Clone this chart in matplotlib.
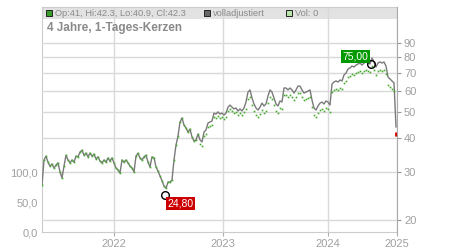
import matplotlib
matplotlib.use("Agg")
import matplotlib.pyplot as plt
import numpy as np
from matplotlib.patches import Rectangle

plt.rcParams["font.family"] = ["Liberation Sans", "DejaVu Sans"]

# fully adjusted close, one sample roughly every 8 calendar days
close_adj = [
    26.9, 33.3, 34.4, 32.7, 31.6, 32.2, 31.1, 31.9, 32.5, 30.1,
    28.6, 31.6, 34.7, 33.3, 32.5, 33.3, 32.7, 34.4, 34.2, 35.6,
    36.2, 34.7, 35.3, 34.2, 35.3, 34.4, 35.0, 33.6, 34.2, 33.0,
    32.5, 33.3, 32.7, 33.9, 33.0, 33.9, 32.5, 31.1, 30.6, 29.8,
    33.3, 32.7, 33.3, 32.5, 31.6, 31.1, 30.1, 34.4, 35.3, 33.9,
    33.3, 34.2, 34.7, 32.7, 31.4, 34.2, 33.9, 31.4, 30.3, 29.1,
    27.9, 26.7, 26.2, 27.6, 27.6, 28.1, 33.3, 37.8, 40.8, 46.0,
    47.6, 44.8, 43.7, 42.2, 43.3, 40.5, 39.1, 39.5, 41.5, 39.5,
    38.8, 42.2, 43.0, 45.6, 46.0, 46.4, 49.6, 49.2, 50.1, 49.2,
    49.6, 48.8, 49.6, 52.2, 53.1, 52.2, 51.4, 51.8, 50.5, 51.4,
    50.5, 51.8, 54.5, 59.3, 60.4, 56.4, 53.6, 51.8, 50.9, 52.2,
    54.0, 52.7, 53.6, 57.4, 60.4, 59.3, 56.4, 53.6, 52.7, 55.0,
    54.5, 61.4, 61.4, 60.4, 61.4, 60.4, 58.8, 60.4, 62.4, 62.4,
    60.4, 58.8, 59.3, 59.8, 60.4, 55.4, 51.8, 50.9, 52.7, 54.0,
    54.5, 53.6, 55.0, 54.5, 53.1, 63.5, 64.6, 65.2, 64.6, 65.7,
    65.2, 68.6, 69.7, 72.1, 72.8, 74.0, 73.4, 74.6, 75.3, 75.9,
    74.6, 75.9, 76.6, 75.9, 75.3, 79.2, 76.6, 73.4, 75.9, 76.6,
    75.9, 76.6, 74.0, 67.4, 66.3, 65.2, 64.1, 44.1,
]

# unadjusted candles = adjusted close times factor valid from each break
adj_breaks = [0, 79, 102, 145]
adj_factor = [1.0, 0.965, 0.945, 0.935]

last_candle = {"op": 41, "hi": 42.3, "lo": 40.9, "cl": 42.3}
low_point = (61.5, 24.80, "24,80")
high_point = (164.5, 75.00, "75,00")

year_labels = ["2022", "2023", "2024", "2025"]
year_pos = [36, 90.5, 143, 177.5]
price_ticks = [20, 30, 40, 50, 60, 70, 80, 90]
vol_ticks = [0, 50, 100]
vol_labels = ["0,0", "50,0", "100,0"]

GRID = "#d9d9d9"
TXT = "#a0a0a0"

x = np.arange(len(close_adj))
factor = np.ones(len(close_adj))
for start, f in zip(adj_breaks, adj_factor):
    factor[start:] = f
close_raw = np.array(close_adj) * factor

fig = plt.figure(figsize=(4.5, 2.5), dpi=100)
ax_vol = fig.add_axes([42 / 450, 18 / 250, 355 / 450, 225 / 250])
ax = ax_vol.twinx()

# volume axis (left), nothing traded
ax_vol.set_ylim(0, 375)
ax_vol.set_yticks(vol_ticks)
ax_vol.set_yticklabels(vol_labels)
ax_vol.tick_params(axis="y", length=0, pad=3, labelsize=8, labelcolor=TXT)
ax_vol.set_xlim(0, 177.5)
ax_vol.set_xticks(year_pos)
ax_vol.set_xticklabels(year_labels)
ax_vol.tick_params(axis="x", length=3, color="#aaaaaa", pad=2, labelsize=8, labelcolor=TXT)
ax_vol.set_axisbelow(True)
ax_vol.grid(axis="x", color=GRID, linewidth=1)
for side in ["left", "top", "bottom"]:
    ax_vol.spines[side].set_color("#cccccc")
ax_vol.spines["right"].set_visible(False)

# header band
ax_vol.add_patch(Rectangle((0, 1 - 12 / 225), 1, 12 / 225, transform=ax_vol.transAxes,
                           facecolor="#e2e2e2", edgecolor="none", zorder=0.1))

# price axis (right, log)
ax.set_yscale("log")
ax.set_ylim(18.06, 122.2)
ax.set_yticks(price_ticks)
ax.set_yticklabels([str(t) for t in price_ticks])
ax.yaxis.set_minor_locator(matplotlib.ticker.NullLocator())
ax.tick_params(axis="y", length=3, color="#999999", pad=2, labelsize=8, labelcolor=TXT)
ax.set_axisbelow(True)
ax.grid(axis="y", color=GRID, linewidth=1)
ax.spines["right"].set_color("#aaaaaa")
for side in ["left", "top", "bottom"]:
    ax.spines[side].set_visible(False)

ax.plot(x, close_adj, color="#7a7a7a", linewidth=1.0, zorder=3)
ax.plot(x, close_raw, linestyle="none", marker="s", markersize=1.2,
        markeredgewidth=0, color="#45aa2e", zorder=4)
ax.vlines(x[-1], last_candle["lo"], last_candle["hi"], color="#dd0000", linewidth=2, zorder=5)

# extremes
lx, lv, lt = low_point
hx, hv, ht = high_point
ax.plot([lx, hx], [lv, hv], linestyle="none", marker="o", markersize=5.5,
        markerfacecolor="none", markeredgecolor="black", markeredgewidth=1, zorder=6)
ax.annotate(lt, (lx, lv), xytext=(2, -3), textcoords="offset points", ha="left", va="top",
            fontsize=7.5, color="white", zorder=7,
            bbox=dict(boxstyle="square,pad=0.15", facecolor="#cc0000", edgecolor="none"))
ax.annotate(ht, (hx, hv), xytext=(-2, 2), textcoords="offset points", ha="right", va="bottom",
            fontsize=7.5, color="white", zorder=7,
            bbox=dict(boxstyle="square,pad=0.15", facecolor="#009900", edgecolor="none"))

# legend row
legend = [
    ("#3a9e2a", f"Op:{last_candle['op']}, Hi:{last_candle['hi']}, Lo:{last_candle['lo']}, Cl:{last_candle['cl']}", 4 / 355),
    ("#666666", "volladjustiert", 162 / 355),
    ("#b9e3a9", "Vol: 0", 244 / 355),
]
sq_w, sq_h = 6 / 355, 6 / 225
for color, label, x0 in legend:
    ax_vol.add_patch(Rectangle((x0, 1 - 6 / 225 - sq_h / 2), sq_w, sq_h, transform=ax_vol.transAxes,
                               facecolor=color, edgecolor="#222222", linewidth=0.7, zorder=5))
    ax_vol.text(x0 + 9 / 355, 1 - 6 / 225, label, transform=ax_vol.transAxes, ha="left", va="center",
                fontsize=6.7, color="#8a8a8a", zorder=5)

ax_vol.text(5 / 355, 1 - 21 / 225, "4 Jahre, 1-Tages-Kerzen", transform=ax_vol.transAxes,
            ha="left", va="center", fontsize=8.5, fontweight="bold", color="#8a8a8a")

fig.savefig("out.png", dpi=100)
